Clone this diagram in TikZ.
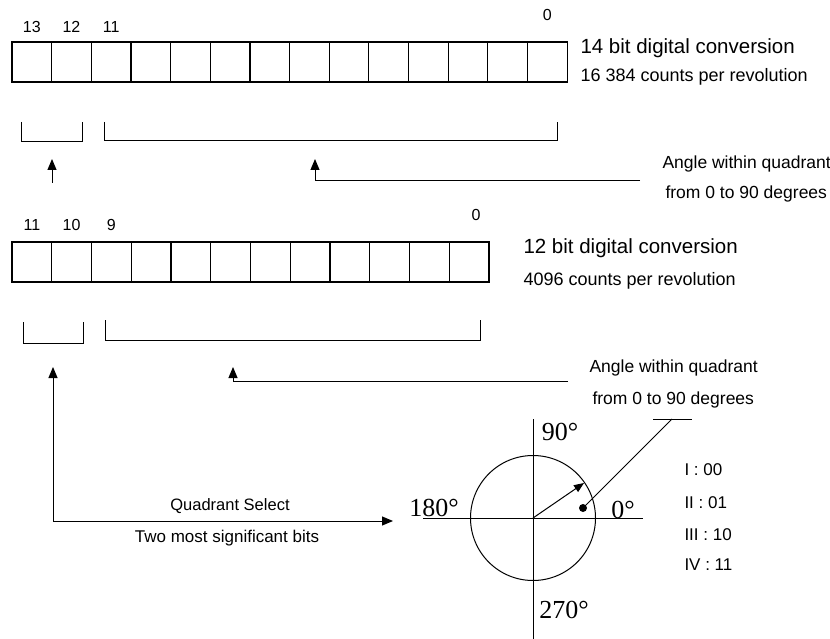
\documentclass[tikz,border=0pt]{standalone}
\usepackage{fontspec}
\setmainfont{Liberation Sans}
\newfontfamily\degfont{Liberation Serif}
\usetikzlibrary{arrows.meta,positioning,calc}

\begin{document}
\begin{tikzpicture}[
  x=1pt,y=-1pt,
  line width=1pt,
  cell/.style={draw,line width=1.2pt,minimum width=39.65pt,minimum height=40pt,inner sep=0pt,outer sep=0pt},
  bitno/.style={font=\fontsize{16}{16}\selectfont,inner sep=0pt},
  title/.style={font=\fontsize{20.5}{21}\selectfont,anchor=west,inner sep=0pt},
  note/.style={font=\fontsize{17.5}{18}\selectfont,anchor=west,inner sep=0pt},
  deg/.style={font=\degfont\fontsize{26}{26}\selectfont,inner sep=0pt},
  dot/.style={circle,fill,inner sep=0pt,minimum size=8pt},
  arr/.style={-{Triangle[length=11pt,width=9pt]}},
  vec/.style={-{Triangle[length=10pt,width=8pt]}}
]
\useasboundingbox (0,0) rectangle (830,639);

% 14 bit register
\foreach \i in {0,...,13}
  \node[cell] (a\i) at ({12+39.65*(13.5-\i)},62) {};
\node[bitno,above=9pt of a13] {13};
\node[bitno,above=9pt of a12] {12};
\node[bitno,above=9pt of a11] {11};
\node[bitno,above=21pt of a0] {0};
\node[title] (t14) at (580,48) {14 bit digital conversion};
\node[note,font=\fontsize{18}{18}\selectfont] (c14) at (580,77) {16 384 counts per revolution};

% brackets
\draw (21,122) |- (82,142) -- (82,122);
\draw (104,122) |- (557,141) -- (557,122);

\coordinate (sA) at (52,183);
\coordinate (sAtip) at (52,159);
\draw[arr] (sA) -- (sAtip);
\coordinate (angA) at (640,181);
\coordinate (angAtip) at (315,159);
\draw[arr] (angA) -| (angAtip);
\node[note] (ta1) at (662,164) {Angle within quadrant};
\node[note] (ta2) at (665,194) {from 0 to 90 degrees};

% 12 bit register
\foreach \i in {0,...,11}
  \node[cell,minimum width=39.75pt] (b\i) at ({12+39.75*(11.5-\i)},262) {};
\node[bitno,above=11pt of b11] {11};
\node[bitno,above=11pt of b10] {10};
\node[bitno,above=11pt of b9] {9};
\node[bitno,above=21pt of b0,xshift=7pt] {0};
\node[title] (t12) at (523,248) {12 bit digital conversion};
\node[note,font=\fontsize{18}{18}\selectfont] (c12) at (523,281) {4096 counts per revolution};

% brackets
\draw (23,322) |- (83,343) -- (83,322);
\draw (105,320) |- (480,340) -- (480,320);

\coordinate (angB) at (568,381);
\coordinate (angBtip) at (233,367);
\draw[arr] (angB) -| (angBtip);
\node[note] (tb1) at (589,368) {Angle within quadrant};
\node[note] (tb2) at (592,400) {from 0 to 90 degrees};

% quadrant select
\coordinate (qtip) at (53,367);
\coordinate (qend) at (393,521);
\draw[arr,{Triangle[length=11pt,width=9pt]}-{Triangle[length=11pt,width=9pt]}] (qtip) |- (qend);
\node[note,font=\fontsize{16.5}{17}\selectfont,anchor=center] (qs) at (230,506) {Quadrant Select};
\node[note,font=\fontsize{17}{17}\selectfont,anchor=center] (qb) at (227,538) {Two most significant bits};

% angle circle
\coordinate (o) at (533,518);
\draw (o) circle[radius=62.5];
\draw (533,419) -- (533,639);
\draw (423,518) -- (643,518);
\node[deg] (d90) at (560,432) {90°};
\node[deg] (d180) at (434,508) {180°};
\node[deg] (d0) at (623,510) {0°};
\node[deg] (d270) at (564,610) {270°};
\coordinate (vtip) at (584,483);
\draw[vec] (o) -- (vtip);
\node[dot] (pt) at (583,508) {};
\coordinate (ldr) at (672,419);
\draw (pt.center) -- (ldr);
\draw (653,419) -- (692,419);

\foreach \t/\y in {I : 00/470, II : 01/503, III : 10/535, IV : 11/565}
  \node[note,font=\fontsize{17}{17}\selectfont] at (684,\y) {\t};
\end{tikzpicture}
\end{document}
